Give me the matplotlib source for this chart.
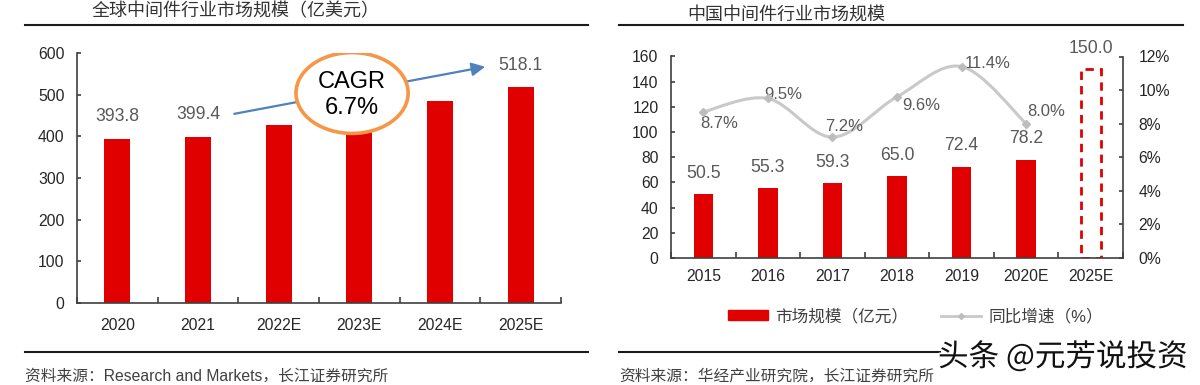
import matplotlib
matplotlib.use('Agg')
import matplotlib.pyplot as plt
import numpy as np
from matplotlib.path import Path
from matplotlib.patches import PathPatch, Ellipse, Patch
from matplotlib.lines import Line2D
import matplotlib.patheffects as pe

plt.rcParams['font.family'] = ['Liberation Sans', 'Noto Sans CJK SC']

# ---------------- data ----------------
g_title = '全球中间件行业市场规模（亿美元）'
g_years = ['2020', '2021', '2022E', '2023E', '2024E', '2025E']
g_values = [393.8, 399.4, 426.2, 454.7, 485.2, 518.1]
g_labeled = [True, True, False, False, False, True]
g_yticks = [0, 100, 200, 300, 400, 500, 600]
g_source = '资料来源：Research and Markets，长江证券研究所'
cagr_text = 'CAGR\n6.7%'

c_title = '中国中间件行业市场规模'
c_years = ['2015', '2016', '2017', '2018', '2019', '2020E', '2025E']
c_values = [50.5, 55.3, 59.3, 65.0, 72.4, 78.2, 150.0]
c_dashed = [False, False, False, False, False, False, True]
c_growth = [8.7, 9.5, 7.2, 9.6, 11.4, 8.0]
c_yticks = [0, 20, 40, 60, 80, 100, 120, 140, 160]
c_y2ticks = [0, 2, 4, 6, 8, 10, 12]
c_legend = ['市场规模（亿元）', '同比增速（%）']
c_source = '资料来源：华经产业研究院，长江证券研究所'
watermark = '头条 @元芳说投资'

# ---------------- style ----------------
RED = '#E00000'
GRAY_LINE = '#C9C9C9'
LABEL_C = '#595959'
TICK_C = '#262626'
AX_C = '#404040'
px = 0.72  # points per pixel at dpi 100
# label offsets for growth labels (pixels)
growth_offsets = [(16, -12), (15, 4), (12, 11), (24, -9), (26, 3), (20, 12)]

fig = plt.figure(figsize=(12, 3.85), dpi=100)

def style_axis(ax, n):
    for s in ['top', 'right']:
        ax.spines[s].set_visible(False)
    for s in ['left', 'bottom']:
        ax.spines[s].set_color(AX_C)
        ax.spines[s].set_linewidth(1.2)
    ax.set_xlim(-0.5, n - 0.5)
    ax.set_xticks(range(n))
    ax.set_xticks(np.arange(-0.5, n, 1.0), minor=True)
    ax.tick_params(axis='x', which='major', length=0, labelsize=11.3, labelcolor=TICK_C)
    ax.tick_params(axis='x', which='minor', direction='in', length=4, color=AX_C, width=1.2)
    ax.tick_params(axis='y', direction='in', length=3, color=AX_C, width=1.2,
                   labelsize=11.3, labelcolor=TICK_C, pad=9)

# ---------------- left chart ----------------
ax1 = fig.add_axes([77 / 1200, 1 - 303 / 385, (561 - 77) / 1200, (303 - 53) / 385])
xg = np.arange(len(g_years))
ax1.bar(xg, g_values, width=0.32, color=RED, zorder=2)
ax1.set_ylim(0, 600)
ax1.set_yticks(g_yticks)
style_axis(ax1, len(g_years))
ax1.set_xticklabels(g_years)
ax1.tick_params(axis='x', which='major', pad=11)
for xi, v, lab in zip(xg, g_values, g_labeled):
    if lab:
        ax1.annotate(f'{v:.1f}', (xi, v), xytext=(0, 22 * px), textcoords='offset points',
                     ha='center', va='center', fontsize=12.7, color=LABEL_C)

# CAGR arrow from 2021 label towards 2025E label
ax1.annotate('', xy=(4.56, 567), xytext=(1.45, 454),
             arrowprops=dict(arrowstyle='-|>,head_length=0.8,head_width=0.4',
                             color='#4F81BD', lw=1.6, shrinkA=0, shrinkB=0), zorder=3)
ell = Ellipse((2.91, 504), width=1.39, height=194, facecolor='white',
              edgecolor='#F79646', linewidth=2.6, zorder=4)
ax1.add_patch(ell)
ax1.text(2.91, 500, cagr_text, ha='center', va='center', fontsize=17,
         color='black', linespacing=1.25, zorder=5)

# ---------------- right chart ----------------
ax2 = fig.add_axes([671 / 1200, 1 - 258 / 385, (1123 - 671) / 1200, (258 - 56.5) / 385])
xc = np.arange(len(c_years))
for xi, v, d in zip(xc, c_values, c_dashed):
    if d:
        ax2.bar(xi, v, width=0.31, fill=False, edgecolor=RED, linewidth=2,
                linestyle=(0, (3, 2.2)), zorder=2)
    else:
        ax2.bar(xi, v, width=0.3, color=RED, zorder=2)
    ax2.annotate(f'{v:.1f}', (xi, v), xytext=(0, 21 * px), textcoords='offset points',
                 ha='center', va='center', fontsize=12.7, color=LABEL_C)
ax2.set_ylim(0, 160)
ax2.set_yticks(c_yticks)
style_axis(ax2, len(c_years))
ax2.set_xticklabels(c_years)
ax2.tick_params(axis='x', which='major', pad=8)

ax3 = ax2.twinx()
ax3.set_ylim(0, 12)
ax3.set_yticks(c_y2ticks)
ax3.set_yticklabels([f'{t}%' for t in c_y2ticks])
for s in ['top', 'left', 'bottom']:
    ax3.spines[s].set_visible(False)
ax3.spines['right'].set_color(AX_C)
ax3.spines['right'].set_linewidth(1.2)
ax3.tick_params(axis='y', direction='in', length=3, color=AX_C, width=1.2,
                labelsize=11.3, labelcolor=TICK_C, pad=11)

# smooth growth line (cubic Bezier via Catmull-Rom tangents)
gx = np.arange(len(c_growth), dtype=float)
gy = np.array(c_growth, dtype=float)
pts = np.column_stack([gx, gy])
verts = [tuple(pts[0])]
codes = [Path.MOVETO]
n = len(pts)
for i in range(n - 1):
    p0 = pts[max(i - 1, 0)]
    p1 = pts[i]
    p2 = pts[i + 1]
    p3 = pts[min(i + 2, n - 1)]
    c1 = p1 + (p2 - p0) / 6.0
    c2 = p2 - (p3 - p1) / 6.0
    verts += [tuple(c1), tuple(c2), tuple(p2)]
    codes += [Path.CURVE4] * 3
ax3.add_patch(PathPatch(Path(verts, codes), fill=False, edgecolor=GRAY_LINE,
                        linewidth=2.2, zorder=3))
ax3.plot(gx, gy, linestyle='none', marker='D', markersize=4, color='#BDBDBD', zorder=4)
for xi, v, (dx, dy) in zip(gx, c_growth, growth_offsets):
    ax3.annotate(f'{v:.1f}%', (xi, v), xytext=(dx * px, dy * px), textcoords='offset points',
                 ha='center', va='center', fontsize=12, color=LABEL_C)

handles = [Patch(facecolor=RED, edgecolor=RED),
           Line2D([], [], color=GRAY_LINE, lw=2, marker='D', markersize=3,
                  markerfacecolor='#BDBDBD', markeredgecolor='#BDBDBD')]
fig.legend(handles, c_legend, loc='center', bbox_to_anchor=(0.763, 1 - 316 / 385),
           ncol=2, frameon=False, fontsize=12, handlelength=2.4, handleheight=0.5,
           handletextpad=0.45, columnspacing=2.0, labelcolor='#404040')

# ---------------- titles, rules, sources ----------------
fig.text(92 / 1200, 1 - 12 / 385, g_title, ha='left', va='center', fontsize=13, color='#333333')
fig.text(687 / 1200, 1 - 15 / 385, c_title, ha='left', va='center', fontsize=13, color='#333333')

def hrule(x0, x1, y):
    fig.add_artist(Line2D([x0 / 1200, x1 / 1200], [1 - y / 385, 1 - y / 385],
                          color='#1A1A1A', linewidth=1.5))

hrule(25, 588, 25)
hrule(619, 1183, 25)
hrule(25, 588, 352)
hrule(619, 940, 352)

fig.text(25 / 1200, 1 - 376 / 385, g_source, ha='left', va='center', fontsize=11.3, color='#404040')
fig.text(619 / 1200, 1 - 376 / 385, c_source, ha='left', va='center', fontsize=11.3, color='#404040')
fig.text(938 / 1200, 1 - 357 / 385, watermark, ha='left', va='center', fontsize=22,
         color='#111111', family=['Noto Sans CJK SC', 'DejaVu Sans'],
         path_effects=[pe.withStroke(linewidth=2.5, foreground='white')])

fig.savefig('out.png', dpi=100)
